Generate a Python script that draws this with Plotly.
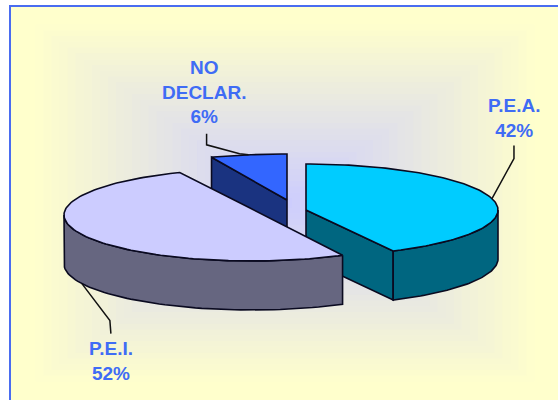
import math
import numpy as np
import plotly.graph_objects as go

# --- data ---
categories = ["P.E.A.", "P.E.I.", "NO DECLAR."]
values = [42, 52, 6]
label_lines = [["P.E.A."], ["P.E.I."], ["NO", "DECLAR."]]

# --- styling / layout constants ---
top_colors = ["#00CCFF", "#CCCCFF", "#3366FF"]
side_colors = ["#006680", "#666680", "#1A3380"]
centers = [(306, 210), (252, 215), (287, 200)]
apexes = [(306, 210), (250, 208), (287, 200)]
radii_x = [192, 188, 205]
end_nudge = [1.8, -1.0, 0.0]     # small perspective correction of each slice's end angle
RY = 46
DEPTH = 49
EDGE = "#0A0A20"
draw_order = [2, 0, 1]
label_pos = [(514, 117.5), (110.5, 361), (204, 92)]
# elbows of the leader lines, relative to the point on the rim
leader_steps = [[(22, -40), (22, -53)], [(28, 37), (29, 50)], [(-9, -1), (-42, -10), (-42, -21)]]
LABEL_COLOR = "#3F6CF5"

W, H = 558, 400
FX0, FY0 = 10, 6
GX, GY = 285, 203
HW, HH = GX - FX0, GY - FY0
C_OUT = np.array([255, 255, 204])
C_IN = np.array([204, 204, 255])
STEPS = 34

shapes = [dict(type="rect", xref="x", yref="y", x0=FX0, y0=FY0, x1=W + 10, y1=H + 10,
               fillcolor="#FFFFCC", line=dict(color="#4A6CF0", width=2), layer="below")]
for i in range(STEPS):
    t = 1 - i / STEPS
    mix = min(t / 0.93, 1)
    c = C_IN + (C_OUT - C_IN) * mix
    shapes.append(dict(type="rect", xref="x", yref="y",
                       x0=GX - HW * t + 1, x1=GX + HW * t - 1,
                       y0=GY - HH * t + 1, y1=GY + HH * t - 1,
                       fillcolor="rgb(%d,%d,%d)" % tuple(c), line=dict(width=0), layer="below"))

fracs = np.array(values) / sum(values) * 360
starts = np.concatenate([[0], np.cumsum(fracs)[:-1]])
ends = starts + fracs


def pt(i, deg, drop=0):
    a = math.radians(deg)
    cx, cy = centers[i]
    return cx + radii_x[i] * math.sin(a), cy - RY * math.cos(a) + drop


def poly(points, color):
    xs, ys = zip(*points)
    return go.Scatter(x=list(xs) + [xs[0]], y=list(ys) + [ys[0]], mode="lines", fill="toself",
                      fillcolor=color, line=dict(color=EDGE, width=1.6), hoverinfo="skip",
                      showlegend=False)


fig = go.Figure()
for i in draw_order:
    s, e = starts[i], ends[i] + end_nudge[i]
    apex = apexes[i]
    # radial faces that look towards the viewer
    if math.cos(math.radians(e + 90)) < -1e-6:
        p = pt(i, e)
        fig.add_trace(poly([apex, p, (p[0], p[1] + DEPTH), (apex[0], apex[1] + DEPTH)], side_colors[i]))
    if math.cos(math.radians(s - 90)) < -1e-6:
        p = pt(i, s)
        fig.add_trace(poly([apex, p, (p[0], p[1] + DEPTH), (apex[0], apex[1] + DEPTH)], side_colors[i]))
    # outer rim
    lo, hi = max(s, 90), min(e, 270)
    if hi > lo:
        arc = np.linspace(lo, hi, 60)
        fig.add_trace(poly([pt(i, a) for a in arc] + [pt(i, a, DEPTH) for a in arc[::-1]], side_colors[i]))
    # top face
    arc = np.linspace(s, e, 120)
    fig.add_trace(poly([apex] + [pt(i, a) for a in arc], top_colors[i]))

annotations = []
for i in range(len(values)):
    mid = (starts[i] + ends[i]) / 2
    drop = DEPTH if 180 < mid % 360 < 270 else 0
    x0, y0 = pt(i, mid, drop)
    xs = [x0] + [x0 + d[0] for d in leader_steps[i]]
    ys = [y0] + [y0 + d[1] for d in leader_steps[i]]
    fig.add_trace(go.Scatter(x=xs, y=ys, mode="lines", line=dict(color="#111111", width=1.5),
                             hoverinfo="skip", showlegend=False))
    lines = label_lines[i] + ["%d%%" % values[i]]
    annotations.append(dict(x=label_pos[i][0], y=label_pos[i][1], xref="x", yref="y",
                            text="<br>".join("<b>%s</b>" % l for l in lines),
                            showarrow=False, xanchor="center", yanchor="middle", align="center",
                            font=dict(family="Liberation Sans", size=19, color=LABEL_COLOR)))

fig.update_layout(width=W, height=H, autosize=False, margin=dict(l=0, r=0, t=0, b=0),
                  paper_bgcolor="white", plot_bgcolor="white", showlegend=False,
                  shapes=shapes, annotations=annotations,
                  xaxis=dict(range=[0, W], visible=False, fixedrange=True),
                  yaxis=dict(range=[H, 0], visible=False, fixedrange=True))
fig.write_html("out.html", config=dict(displayModeBar=False),
               post_script="document.body.style.margin='0';document.body.style.overflow='hidden';")
